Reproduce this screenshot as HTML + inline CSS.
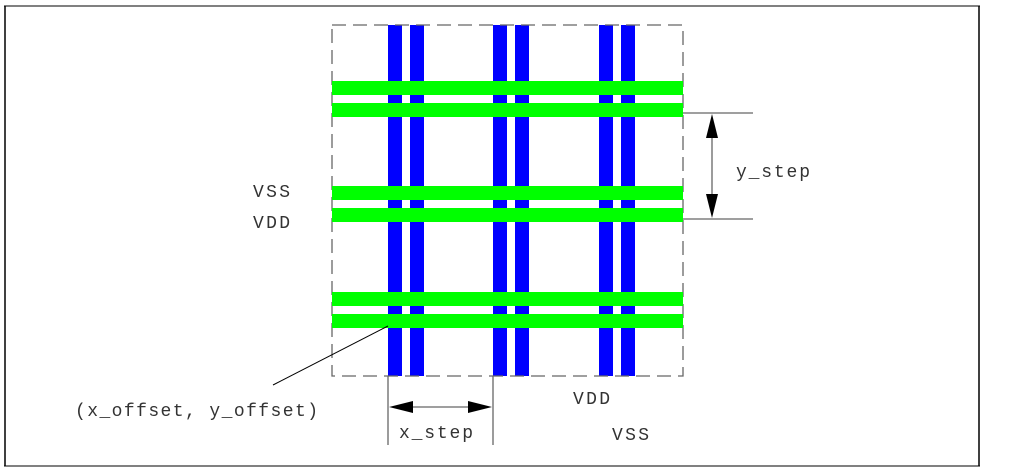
<!DOCTYPE html>
<html><head><meta charset="utf-8"><style>
html,body{margin:0;padding:0;background:#fff;width:1013px;height:474px;overflow:hidden}
text{font-family:"Liberation Mono",monospace;font-size:18px;fill:#333}
</style></head><body>
<svg width="1013" height="474" viewBox="0 0 1013 474" xmlns="http://www.w3.org/2000/svg">
<line x1="4" y1="6" x2="980" y2="6" stroke="#808080" stroke-width="2"/>
<line x1="4" y1="466" x2="980" y2="466" stroke="#808080" stroke-width="2"/>
<line x1="5" y1="6" x2="5" y2="466" stroke="#000" stroke-width="1.5"/>
<line x1="979" y1="6" x2="979" y2="466" stroke="#000" stroke-width="1.5"/>
<g fill="#0000ff">
<rect x="388" y="25" width="14" height="351"/><rect x="410" y="25" width="14" height="351"/>
<rect x="493" y="25" width="14" height="351"/><rect x="515" y="25" width="14" height="351"/>
<rect x="599" y="25" width="14" height="351"/><rect x="621" y="25" width="14" height="351"/>
</g>
<rect x="332" y="25" width="351" height="351" fill="none" stroke="#666" stroke-width="1.3" stroke-dasharray="14,7"/>
<g fill="#00ff00">
<rect x="332" y="81" width="351" height="14"/><rect x="332" y="103" width="351" height="14"/>
<rect x="332" y="186" width="351" height="14"/><rect x="332" y="208" width="351" height="14"/>
<rect x="332" y="292" width="351" height="14"/><rect x="332" y="314" width="351" height="14"/>
</g>
<g stroke="#666" stroke-width="1.3">
<line x1="683" y1="113" x2="753" y2="113"/><line x1="683" y1="219" x2="753" y2="219"/>
<line x1="712" y1="125" x2="712" y2="207"/>
<line x1="388" y1="376" x2="388" y2="445"/><line x1="493" y1="376" x2="493" y2="445"/>
<line x1="400" y1="407" x2="481" y2="407"/>
</g>
<g fill="#000">
<polygon points="712,114 706,138 718,138"/><polygon points="712,218 706,194 718,194"/>
<polygon points="389,407 413,401 413,413"/><polygon points="492,407 468,401 468,413"/>
</g>
<line x1="388" y1="326" x2="273" y2="385" stroke="#000" stroke-width="1"/>
<text x="253" y="197" textLength="37">VSS</text>
<text x="253" y="228" textLength="37">VDD</text>
<text x="736" y="177" textLength="74">y_step</text>
<text x="75" y="416" textLength="243">(x_offset, y_offset)</text>
<text x="399" y="438" textLength="74">x_step</text>
<text x="573" y="404" textLength="37">VDD</text>
<text x="612" y="440" textLength="37">VSS</text>
</svg>
</body></html>
